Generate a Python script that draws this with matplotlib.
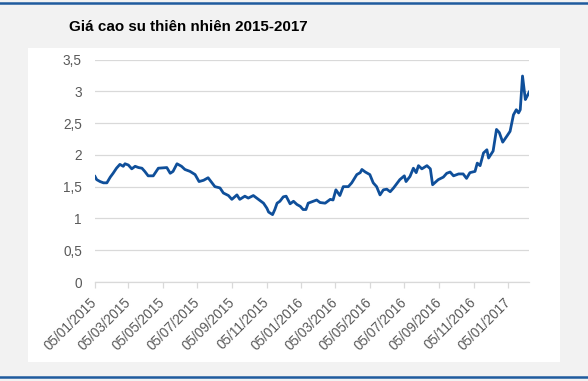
import datetime as dt
import matplotlib.pyplot as plt
import matplotlib.dates as mdates
from matplotlib.patches import Rectangle
from matplotlib.lines import Line2D

title = "Giá cao su thiên nhiên 2015-2017"
start = dt.date(2015, 1, 5)

# days after 05/01/2015
day_offsets = [0, 3, 9, 15, 21, 27, 32, 38, 44, 50, 53, 59, 65, 71, 77, 83, 88, 94,
               103, 112, 127, 133, 138, 145, 153, 159, 168, 177, 184, 192, 200, 206,
               212, 221, 227, 236, 242, 251, 256, 265, 271, 280, 289, 298, 304, 307,
               314, 318, 322, 327, 333, 338, 345, 351, 357, 363, 368, 373, 377, 386,
               392, 398, 407, 416, 421, 426, 433, 439, 448, 454, 463, 469, 472, 478,
               486, 492, 498, 504, 510, 516, 522, 528, 539, 547, 550, 557, 563, 568,
               572, 578, 587, 593, 597, 607, 616, 622, 628, 634, 643, 651, 657, 663,
               672, 676, 681, 687, 693, 696, 704, 710, 715, 721, 728, 734, 740, 745,
               749, 752, 756, 761, 764, 768]
prices = [1.66, 1.61, 1.58, 1.56, 1.56, 1.65, 1.71, 1.79, 1.85, 1.82, 1.86, 1.84, 1.78,
          1.82, 1.80, 1.79, 1.74, 1.67, 1.67, 1.79, 1.80, 1.71, 1.74, 1.86, 1.82, 1.77,
          1.74, 1.69, 1.58, 1.60, 1.64, 1.57, 1.50, 1.48, 1.40, 1.36, 1.30, 1.37, 1.30,
          1.35, 1.32, 1.36, 1.30, 1.24, 1.16, 1.10, 1.06, 1.14, 1.24, 1.27, 1.34, 1.35,
          1.23, 1.27, 1.22, 1.19, 1.14, 1.14, 1.24, 1.27, 1.29, 1.25, 1.24, 1.30, 1.29,
          1.45, 1.36, 1.50, 1.50, 1.56, 1.69, 1.72, 1.77, 1.73, 1.69, 1.56, 1.50, 1.37,
          1.45, 1.46, 1.42, 1.48, 1.61, 1.67, 1.58, 1.66, 1.79, 1.72, 1.83, 1.78, 1.83,
          1.78, 1.53, 1.61, 1.65, 1.71, 1.73, 1.67, 1.70, 1.70, 1.63, 1.72, 1.74, 1.87,
          1.83, 2.03, 2.08, 1.95, 2.06, 2.40, 2.35, 2.20, 2.29, 2.37, 2.63, 2.71, 2.66,
          2.71, 3.24, 2.87, 2.92, 2.99]

tick_dates = [dt.date(2015 + (m - 1) // 12, (m - 1) % 12 + 1, 5) for m in range(1, 26, 2)]
y_ticks = [0, 0.5, 1, 1.5, 2, 2.5, 3, 3.5]
y_labels = ["0", "0,5", "1", "1,5", "2", "2,5", "3", "3,5"]

dates = [start + dt.timedelta(days=d) for d in day_offsets]

plt.rcParams['font.family'] = ['Liberation Sans', 'DejaVu Sans']

W, H = 588, 381
fig = plt.figure(figsize=(W / 100, H / 100), dpi=100, facecolor='#f2f2f2')

# white panel behind the chart
fig.patches.append(Rectangle((28 / W, 1 - 362 / H), 532 / W, 314 / H,
                             transform=fig.transFigure, facecolor='white',
                             edgecolor='none', zorder=-5))
# blue rules top and bottom
fig.lines.append(Line2D([0, 1], [1 - 2.5 / H] * 2, transform=fig.transFigure,
                        color='#1f5b9e', lw=1.8))
fig.lines.append(Line2D([0, 1], [1 - 376.5 / H] * 2, transform=fig.transFigure,
                        color='#1f5b9e', lw=1.8))

fig.text(69 / W, 1 - 31 / H, title, fontsize=10.9, fontweight='bold', color='black',
         ha='left', va='baseline')

ax = fig.add_axes([95 / W, 1 - 282 / H, (529.3 - 95) / W, (282 - 59.5) / H])
ax.set_zorder(5)
ax.patch.set_visible(False)
ax.plot(dates, prices, color='#0f4f9a', lw=2.0, solid_joinstyle='round', zorder=3)

ax.set_xlim(dates[0], dates[-1])
ax.set_ylim(0, 3.5)
ax.set_yticks(y_ticks)
ax.set_yticklabels(y_labels)
ax.set_xticks(tick_dates)
ax.xaxis.set_major_formatter(mdates.DateFormatter('%d/%m/%Y'))
plt.setp(ax.get_xticklabels(), rotation=45, ha='right', va='center', rotation_mode='anchor')

ax.grid(axis='y', color='#d9d9d9', lw=0.9)
ax.set_axisbelow(True)
for s in ['top', 'right', 'left']:
    ax.spines[s].set_visible(False)
ax.spines['bottom'].set_color('#d9d9d9')
ax.spines['bottom'].set_linewidth(0.9)
ax.tick_params(axis='y', length=0, pad=9.4, labelsize=9.8, labelcolor='#595959')
ax.tick_params(axis='x', length=4, width=0.9, color='#d9d9d9', direction='out',
               pad=9, labelsize=9.8, labelcolor='#595959')

fig.savefig('out.png', dpi=100, facecolor=fig.get_facecolor())
